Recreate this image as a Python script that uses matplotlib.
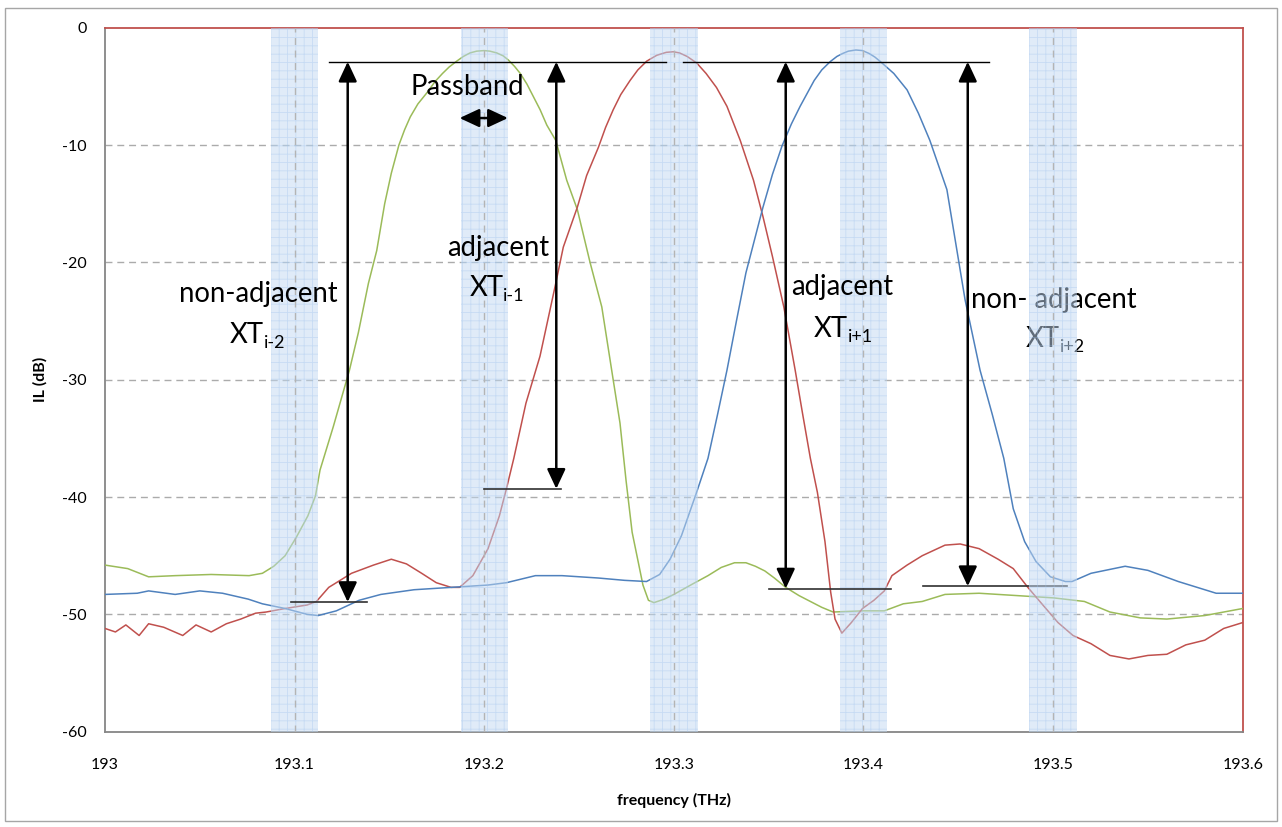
import matplotlib
matplotlib.use("Agg")
import matplotlib.pyplot as plt
from matplotlib.patches import Rectangle

plt.rcParams['font.family'] = ['Lato', 'DejaVu Sans']
plt.rcParams['axes.unicode_minus'] = False
plt.rcParams['hatch.linewidth'] = 0.6

# ---------------- data ----------------
green_f = [193.000, 193.012, 193.023, 193.037, 193.056, 193.076, 193.083, 193.089, 193.095,
           193.101, 193.107, 193.111, 193.1134, 193.1204, 193.1289, 193.1336, 193.1389, 193.1433,
           193.1475, 193.151, 193.155, 193.158, 193.161, 193.165, 193.170, 193.174, 193.178,
           193.1815, 193.1855, 193.189, 193.1925, 193.196, 193.200, 193.203, 193.2066, 193.210,
           193.2127, 193.216, 193.219, 193.2225, 193.226, 193.2295, 193.233, 193.2377, 193.2435,
           193.2491, 193.2558, 193.262, 193.268, 193.2716, 193.2748, 193.278, 193.2837, 193.2866,
           193.2895, 193.295, 193.300, 193.310, 193.318, 193.325, 193.332, 193.338, 193.343,
           193.348, 193.353, 193.359, 193.366, 193.372, 193.378, 193.384, 193.3995, 193.411,
           193.421, 193.431, 193.443, 193.461, 193.481, 193.5006, 193.5165, 193.530, 193.546,
           193.560, 193.580, 193.600]
green_db = [-45.8, -46.1, -46.8, -46.7, -46.6, -46.7, -46.5, -45.9, -45.0,
            -43.4, -41.6, -39.9, -37.7, -34.0, -29.2, -26.0, -21.8, -19.0,
            -15.0, -12.4, -10.0, -8.7, -7.6, -6.5, -5.5, -4.6, -3.9,
            -3.35, -2.85, -2.45, -2.15, -2.0, -1.95, -2.0, -2.15, -2.4,
            -2.75, -3.3, -3.9, -4.8, -5.9, -7.0, -8.3, -9.6, -13.0,
            -15.5, -20.0, -23.8, -30.0, -33.7, -38.6, -43.0, -47.5, -48.8,
            -49.0, -48.7, -48.3, -47.4, -46.7, -46.0, -45.6, -45.6, -45.9,
            -46.3, -46.9, -47.7, -48.4, -48.9, -49.4, -49.8, -49.7, -49.7,
            -49.1, -48.9, -48.3, -48.2, -48.4, -48.6, -48.9, -49.8, -50.3,
            -50.4, -50.1, -49.5]

red_f = [193.000, 193.0055, 193.011, 193.018, 193.023, 193.031, 193.041, 193.048, 193.056,
         193.064, 193.0716, 193.0794, 193.085, 193.095, 193.1066, 193.1115, 193.118, 193.130,
         193.1416, 193.151, 193.159, 193.167, 193.1747, 193.1825, 193.187, 193.194, 193.202,
         193.208, 193.2117, 193.2156, 193.222, 193.2294, 193.2373, 193.2417, 193.2491, 193.254,
         193.2602, 193.264, 193.268, 193.272, 193.2769, 193.281, 193.2857, 193.291, 193.296,
         193.2997, 193.303, 193.307, 193.312, 193.317, 193.3225, 193.328, 193.335,
         193.342, 193.347, 193.352, 193.358, 193.364, 193.368, 193.372, 193.3757, 193.3797,
         193.3827, 193.385, 193.3886, 193.3936, 193.3995, 193.4055, 193.411, 193.415, 193.423,
         193.431, 193.443, 193.451, 193.461, 193.471, 193.479, 193.4867, 193.4946, 193.5026,
         193.5105, 193.520, 193.530, 193.540, 193.550, 193.560, 193.570, 193.580, 193.590,
         193.600]
red_db = [-51.2, -51.5, -50.9, -51.8, -50.8, -51.1, -51.8, -50.9, -51.5,
          -50.8, -50.4, -49.9, -49.8, -49.5, -49.2, -48.9, -47.7, -46.5,
          -45.8, -45.3, -45.7, -46.5, -47.3, -47.7, -47.7, -46.7, -44.4,
          -41.6, -39.3, -36.7, -32.0, -28.0, -22.1, -18.7, -15.3, -12.6,
          -10.2, -8.5, -7.0, -5.7, -4.5, -3.6, -2.85, -2.35, -2.1,
          -2.05, -2.15, -2.45, -3.0, -3.9, -5.1, -6.7, -9.6,
          -13.0, -16.1, -19.5, -23.8, -29.2, -33.0, -36.7, -39.6, -43.8,
          -48.1, -50.4, -51.6, -50.7, -49.5, -48.8, -48.0, -46.7, -45.8,
          -45.0, -44.1, -44.0, -44.4, -45.3, -46.1, -47.7, -49.2, -50.7,
          -51.8, -52.5, -53.5, -53.8, -53.5, -53.4, -52.6, -52.2, -51.2,
          -50.7]

blue_f = [193.000, 193.017, 193.023, 193.037, 193.050, 193.062, 193.0755, 193.083, 193.095,
          193.1066, 193.1125, 193.122, 193.134, 193.1455, 193.163, 193.1825, 193.202, 193.2117,
          193.227, 193.241, 193.260, 193.274, 193.2856, 193.2925, 193.298, 193.304, 193.312,
          193.318, 193.323, 193.328, 193.333, 193.338, 193.347, 193.352, 193.357, 193.362,
          193.3666, 193.374, 193.378, 193.3824, 193.386, 193.389, 193.392, 193.396, 193.3995,
          193.403, 193.406, 193.409, 193.416, 193.423, 193.429, 193.435, 193.444, 193.449,
          193.4536, 193.4615, 193.468, 193.474, 193.479, 193.485, 193.491, 193.4986, 193.5065,
          193.510, 193.520, 193.538, 193.550, 193.566, 193.578, 193.586, 193.600]
blue_db = [-48.3, -48.2, -48.0, -48.3, -48.0, -48.2, -48.7, -49.1, -49.5,
           -50.0, -50.1, -49.7, -48.8, -48.3, -47.9, -47.7, -47.5, -47.3,
           -46.7, -46.7, -46.9, -47.1, -47.2, -46.6, -45.3, -43.3, -39.6,
           -36.7, -33.0, -29.2, -25.0, -20.9, -15.3, -12.5, -10.1, -8.2,
           -6.7, -4.5, -3.6, -2.9, -2.45, -2.2, -2.0, -1.9, -1.95,
           -2.2, -2.5, -2.9, -3.9, -5.3, -7.3, -9.6, -13.8, -18.7,
           -23.2, -29.2, -33.0, -36.7, -41.0, -43.8, -45.5, -46.8, -47.2,
           -47.2, -46.5, -45.9, -46.25, -47.2, -47.8, -48.2, -48.2]

band_centers = [193.1, 193.2, 193.3, 193.4, 193.5]
band_halfwidth = 0.0125

x_ticks = [193.0, 193.1, 193.2, 193.3, 193.4, 193.5, 193.6]
x_tick_labels = ['193', '193.1', '193.2', '193.3', '193.4', '193.5', '193.6']
y_ticks = [0, -10, -20, -30, -40, -50, -60]
y_tick_labels = ['0', '-10', '-20', '-30', '-40', '-50', '-60']

# crosstalk arrows: (frequency, top dB, bottom dB)
xt_arrows = [(193.128, -2.9, -48.95), (193.238, -2.9, -39.3),
             (193.359, -2.9, -47.8), (193.455, -2.9, -47.6)]
# reference lines: (f start, f end, dB)
top_lines = [(193.118, 193.296, -2.9), (193.305, 193.466, -2.9)]
bottom_lines = [(193.098, 193.138, -48.95), (193.200, 193.2405, -39.3),
                (193.350, 193.4144, -47.8), (193.4312, 193.5075, -47.6)]

# labels: (line 1, subscript of XT, f centre, baseline dB of line 1, baseline dB of XT)
xt_labels = [('non-adjacent', 'i-2', 193.0807, -23.35, -26.9),
             ('adjacent', 'i-1', 193.2071, -19.46, -22.9),
             ('adjacent', 'i+1', 193.3887, -22.8, -26.4),
             ('non- adjacent', 'i+2', 193.5005, -23.9, -27.2)]

# ---------------- figure ----------------
W, H = 1282, 827
fig = plt.figure(figsize=(W / 100, H / 100), dpi=100)
ax = fig.add_axes([105 / W, 1 - 731.7 / H, 1137.7 / W, 704 / H])

ax.set_xlim(193.0, 193.6)
ax.set_ylim(-60, 0)

ax.plot(green_f, green_db, color='#9BBB59', lw=1.1, zorder=3)
ax.plot(red_f, red_db, color='#C0504D', lw=1.1, zorder=3)
ax.plot(blue_f, blue_db, color='#4F81BD', lw=1.1, zorder=3)

for c in band_centers:
    z = 6 if c == 193.5 else 4
    ax.axvspan(c - band_halfwidth, c + band_halfwidth, facecolor=(0.76, 0.85, 0.95, 0.5),
               edgecolor=(0.62, 0.76, 0.93, 0.38), hatch='++', lw=0, zorder=z)
    ax.axvline(c, color='#B4B4B4', ls=(0, (5, 4)), lw=1.0, zorder=z + 0.1)

for y in y_ticks[1:-1]:
    ax.axhline(y, color='#ABABAB', ls=(0, (5, 3.5)), lw=1.0, zorder=1)

arrow_style = '<|-|>,head_length=0.6,head_width=0.28'
for (f, ytop, ybot) in xt_arrows:
    ax.annotate('', xy=(f, ybot), xytext=(f, ytop),
                arrowprops=dict(arrowstyle=arrow_style, color='black', lw=1.8,
                                shrinkA=0, shrinkB=0, mutation_scale=20), zorder=5)
ax.annotate('', xy=(193.2125, -7.7), xytext=(193.187, -7.7),
            arrowprops=dict(arrowstyle=arrow_style, color='black', lw=1.8,
                            shrinkA=0, shrinkB=0, mutation_scale=20), zorder=5)

for (a, b, y) in top_lines:
    ax.plot([a, b], [y, y], color='black', lw=1.0, zorder=5)
for (a, b, y) in bottom_lines:
    ax.plot([a, b], [y, y], color='#303030', lw=1.2, zorder=5)

FS = 19.8
ax.text(193.1909, -5.75, 'Passband', fontsize=FS, ha='center', va='baseline', zorder=5)
for (t, sub, f, y1, y2) in xt_labels:
    ax.text(f, y1, t, fontsize=FS, ha='center', va='baseline', zorder=5)
    ax.annotate('XT', xy=(f, y2), xytext=(4.0, 0), textcoords='offset points',
                fontsize=FS, ha='right', va='baseline', zorder=5)
    ax.annotate(sub, xy=(f, y2), xytext=(4.0, -3.5), textcoords='offset points',
                fontsize=13, ha='left', va='baseline', zorder=5)

ax.set_xticks(x_ticks)
ax.set_xticklabels(x_tick_labels)
ax.set_yticks(y_ticks)
ax.set_yticklabels(y_tick_labels)
ax.tick_params(axis='both', length=0, labelsize=11.5, colors='black')
ax.tick_params(axis='x', pad=19)
ax.tick_params(axis='y', pad=13)

for s in ('left', 'bottom'):
    ax.spines[s].set_color('#868686')
    ax.spines[s].set_linewidth(1.3)
for s in ('top', 'right'):
    ax.spines[s].set_color('#C0504D')
    ax.spines[s].set_linewidth(1.3)

ax.set_xlabel('frequency (THz)', fontsize=11.5, fontweight='bold')
ax.set_ylabel('IL (dB)', fontsize=11.5, fontweight='bold')
ax.xaxis.set_label_coords(0.5, (731.7 - 800) / 704)
ax.yaxis.set_label_coords((40 - 105) / 1137.7, 0.5)
ax.xaxis.label.set_va('center')
ax.yaxis.label.set_va('center')

fig.add_artist(Rectangle((5 / W, 1 - 821 / H), 1272 / W, 813 / H, transform=fig.transFigure,
                         fill=False, edgecolor='#A6A6A6', lw=1.0))

fig.savefig('out.png', dpi=100)
